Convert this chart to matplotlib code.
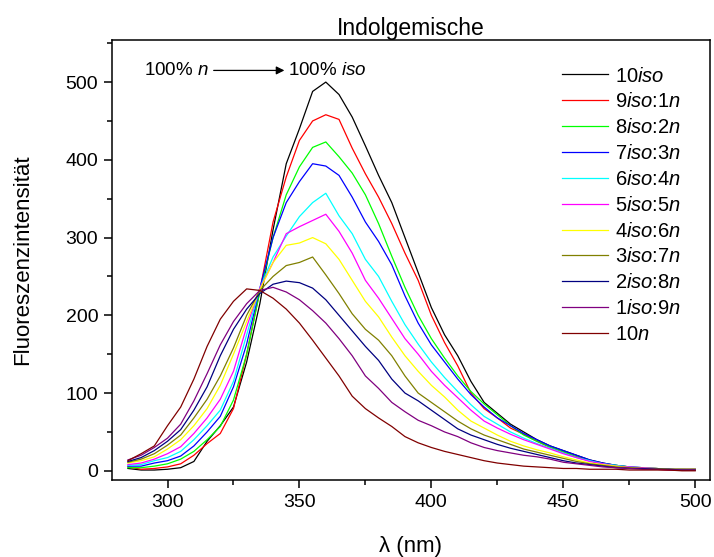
import matplotlib
matplotlib.use("Agg")
import matplotlib.pyplot as plt
from matplotlib.ticker import MultipleLocator

plt.rcParams['font.family'] = ['Liberation Sans', 'DejaVu Sans']
plt.rcParams['mathtext.fontset'] = 'custom'
plt.rcParams['mathtext.rm'] = 'Liberation Sans'
plt.rcParams['mathtext.it'] = 'Liberation Sans:italic'

wavelength = list(range(285, 501, 5))

s_10iso = [3, 1, 1, 2, 4, 12, 38, 58, 82, 140, 215, 310, 395, 440, 488, 500, 484, 455, 418, 380,
           345, 300, 255, 210, 175, 148, 115, 88, 74, 60, 50, 40, 32, 26, 20, 14, 10, 7, 5, 3, 2, 2, 1, 2]
s_9iso1n = [5, 2, 3, 5, 9, 20, 35, 48, 80, 150, 232, 320, 378, 425, 450, 458, 452, 415, 382, 352,
            318, 280, 245, 200, 165, 135, 100, 80, 68, 55, 47, 38, 30, 24, 18, 13, 9, 6, 4, 3, 2, 1, 1, 1]
s_8iso2n = [4, 4, 6, 9, 15, 25, 40, 57, 91, 150, 230, 300, 355, 391, 416, 423, 404, 383, 355, 318,
            276, 236, 200, 170, 145, 122, 102, 86, 72, 58, 46, 38, 31, 25, 18, 13, 9, 7, 5, 4, 3, 2, 2, 1]
s_7iso3n = [6, 6, 10, 13, 19, 32, 50, 70, 108, 163, 235, 300, 345, 372, 395, 392, 380, 352, 320, 295,
            265, 225, 190, 162, 140, 118, 98, 82, 68, 58, 48, 40, 32, 26, 20, 14, 10, 7, 5, 4, 3, 2, 2, 2]
s_6iso4n = [7, 8, 13, 17, 25, 40, 58, 78, 115, 175, 235, 275, 302, 327, 345, 357, 328, 305, 272, 250,
            218, 188, 163, 140, 120, 102, 85, 70, 60, 50, 42, 35, 29, 23, 17, 13, 9, 7, 5, 4, 3, 2, 2, 2]
s_5iso5n = [8, 10, 15, 22, 31, 48, 68, 92, 128, 185, 235, 268, 305, 314, 322, 330, 308, 280, 245, 222,
            196, 170, 150, 128, 110, 94, 78, 64, 55, 47, 40, 34, 28, 22, 17, 12, 9, 6, 5, 4, 3, 2, 2, 2]
s_4iso6n = [10, 13, 18, 28, 40, 58, 80, 110, 150, 192, 233, 268, 290, 293, 300, 292, 272, 245, 218, 198,
            172, 148, 128, 110, 95, 78, 64, 55, 46, 38, 32, 27, 23, 18, 14, 10, 8, 6, 4, 3, 3, 2, 2, 2]
s_3iso7n = [11, 15, 22, 33, 46, 68, 92, 122, 158, 200, 232, 250, 264, 268, 275, 252, 228, 202, 182, 168,
            148, 122, 100, 88, 76, 64, 54, 46, 40, 34, 28, 24, 20, 16, 12, 9, 7, 5, 4, 3, 3, 2, 2, 2]
s_2iso8n = [12, 17, 26, 38, 53, 78, 108, 148, 182, 208, 228, 240, 244, 242, 235, 220, 200, 180, 160, 142,
            118, 100, 90, 78, 66, 54, 46, 40, 34, 29, 25, 21, 17, 13, 10, 8, 6, 4, 3, 3, 2, 2, 1, 1]
s_1iso9n = [14, 20, 30, 42, 60, 90, 125, 162, 192, 215, 232, 236, 230, 220, 206, 190, 170, 148, 122, 106,
            88, 76, 65, 58, 50, 44, 36, 30, 26, 23, 20, 18, 15, 11, 9, 7, 5, 4, 3, 2, 2, 1, 1, 1]
s_10n = [13, 22, 32, 58, 82, 118, 160, 195, 218, 234, 232, 222, 208, 190, 168, 145, 122, 96, 80, 68,
         57, 44, 36, 30, 25, 21, 17, 13, 10, 8, 6, 5, 4, 3, 3, 2, 2, 2, 1, 1, 1, 1, 0, 0]

series = [s_10iso, s_9iso1n, s_8iso2n, s_7iso3n, s_6iso4n, s_5iso5n,
          s_4iso6n, s_3iso7n, s_2iso8n, s_1iso9n, s_10n]
labels = [r"10$\it{iso}$", r"9$\it{iso}$:1$\it{n}$", r"8$\it{iso}$:2$\it{n}$",
          r"7$\it{iso}$:3$\it{n}$", r"6$\it{iso}$:4$\it{n}$", r"5$\it{iso}$:5$\it{n}$",
          r"4$\it{iso}$:6$\it{n}$", r"3$\it{iso}$:7$\it{n}$", r"2$\it{iso}$:8$\it{n}$",
          r"1$\it{iso}$:9$\it{n}$", r"10$\it{n}$"]
colors = ["#000000", "#FF0000", "#00FF00", "#0000FF", "#00FFFF", "#FF00FF",
          "#FFFF00", "#808000", "#000080", "#800080", "#800000"]

fig = plt.figure(figsize=(7.14, 5.57), dpi=100)
ax = fig.add_axes([0.157, 0.138, 0.837, 0.790])

for ys, lab, c in zip(series, labels, colors):
    ax.plot(wavelength, ys, color=c, lw=0.9, label=lab)

ax.set_xlim(279, 505.5)
ax.set_ylim(-12, 554)
ax.xaxis.set_major_locator(MultipleLocator(50))
ax.xaxis.set_minor_locator(MultipleLocator(25))
ax.yaxis.set_major_locator(MultipleLocator(100))
ax.yaxis.set_minor_locator(MultipleLocator(50))
ax.tick_params(which='both', direction='out', top=False, right=False, labelsize=14, width=1.1)
ax.tick_params(which='major', length=6, pad=4)
ax.tick_params(which='minor', length=3.5)
for sp in ax.spines.values():
    sp.set_linewidth(1.1)

ax.set_title("Indolgemische", fontsize=16.5, pad=3)
ax.set_xlabel("λ (nm)", fontsize=16, labelpad=18)
ax.set_ylabel("Fluoreszenzintensität", fontsize=16, labelpad=23)

ax.text(291, 515, r"100% $\it{n}$", fontsize=13.5, va='center', ha='left')
ax.annotate("", xy=(344.3, 515), xytext=(317.5, 515),
            arrowprops=dict(arrowstyle='-|>', color='black', lw=0.9, mutation_scale=12,
                            shrinkA=0, shrinkB=0))
ax.text(345.8, 515, r"100% $\it{iso}$", fontsize=13.5, va='center', ha='left')

leg = ax.legend(loc='upper left', frameon=False, fontsize=14.5, handlelength=2.3,
                handletextpad=0.35, labelspacing=0.34, borderpad=0, borderaxespad=0,
                bbox_to_anchor=(0.7525, 0.94))

fig.savefig("out.png", dpi=100)
